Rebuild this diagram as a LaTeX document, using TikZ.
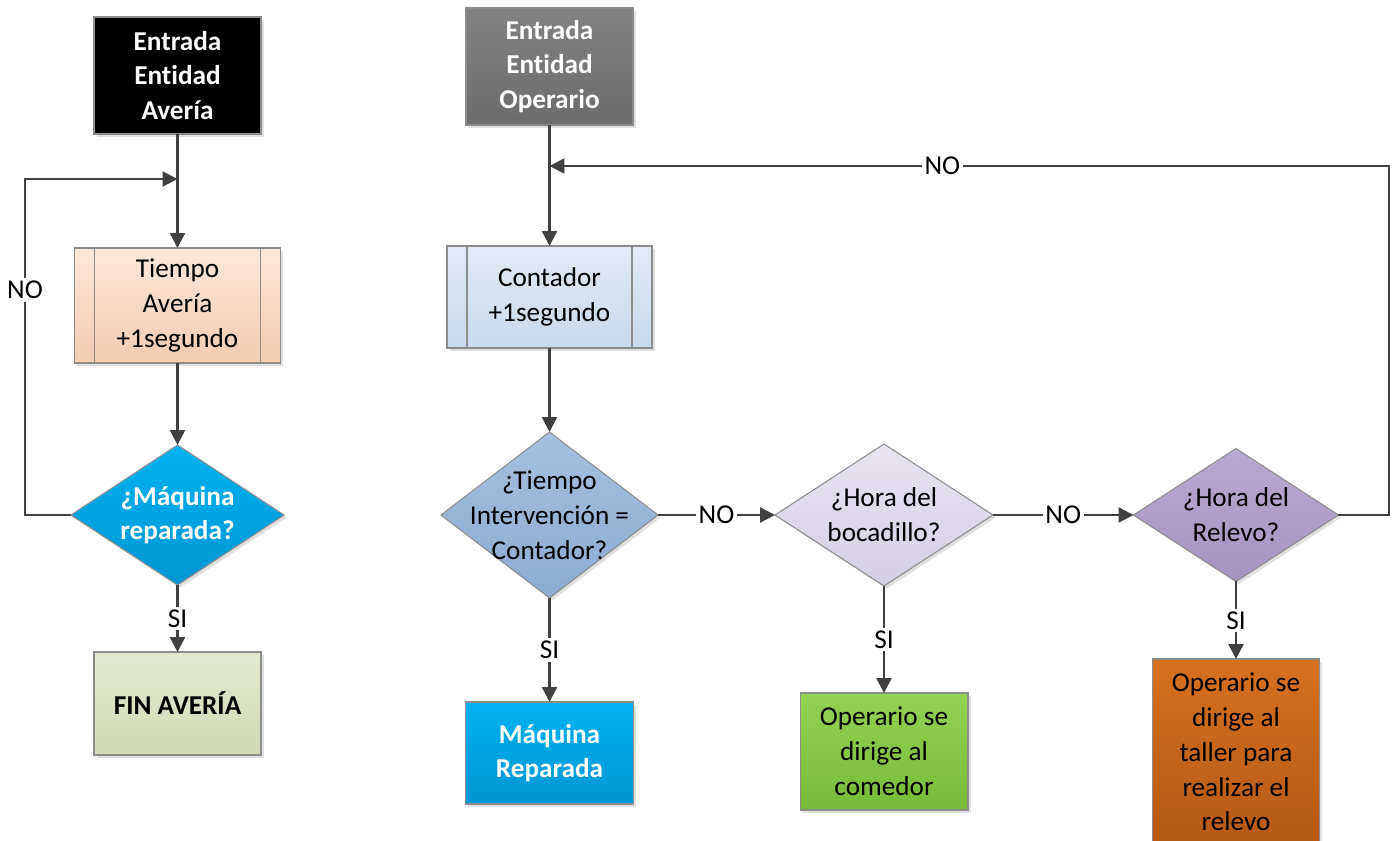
\documentclass[tikz,border=0pt]{standalone}
\usepackage{fontspec}
\setmainfont{Carlito}[Ligatures=NoCommon]
\usepackage{xcolor}
\usetikzlibrary{shapes.geometric,arrows.meta,shadows}

\definecolor{flowline}{HTML}{404040}
\definecolor{boxedge}{HTML}{8C8C8C}
% fills, top and bottom of each gradient
\definecolor{peachtop}{HTML}{FCE8DA}  \definecolor{peachbot}{HTML}{F3CBB0}
\definecolor{skytop}{HTML}{00B2F0}    \definecolor{skybot}{HTML}{0096D4}
\definecolor{olivetop}{HTML}{E2E9D3}  \definecolor{olivebot}{HTML}{D0DAB3}
\definecolor{greytop}{HTML}{828282}   \definecolor{greybot}{HTML}{6C6C6C}
\definecolor{icetop}{HTML}{E2EBF5}    \definecolor{icebot}{HTML}{C8D9EC}
\definecolor{steeltop}{HTML}{A6C0DF}  \definecolor{steelbot}{HTML}{8BABD2}
\definecolor{lilactop}{HTML}{E8E4F1}  \definecolor{lilacbot}{HTML}{D5CFE4}
\definecolor{plumtop}{HTML}{B9AAD0}   \definecolor{plumbot}{HTML}{A593BF}
\definecolor{leaftop}{HTML}{94D152}   \definecolor{leafbot}{HTML}{76BC38}
\definecolor{rusttop}{HTML}{D6711E}   \definecolor{rustbot}{HTML}{B55914}
\newcommand{\chartfont}{\fontsize{15.5}{19.8}\selectfont}

\begin{document}
\begin{tikzpicture}[x=0.02cm, y=-0.02cm,
  basebox/.style={draw=boxedge, line width=0.6pt, inner sep=0pt, outer sep=0pt, align=center,
    font=\chartfont, drop shadow={shadow xshift=1.5pt, shadow yshift=-1.5pt, fill=black!30, opacity=0.4}},
  startnode/.style={basebox, rectangle, minimum width=3.34cm, minimum height=2.34cm, text=white, font=\chartfont\bfseries},
  procnode/.style={basebox, rectangle, minimum width=4.1cm},
  endnode/.style={basebox, rectangle, minimum width=3.36cm},
  asknode/.style={basebox, diamond},
  asktext/.style={align=center, inner sep=0pt, font=\chartfont},
  flow/.style={draw=flowline, line width=1.3pt, -{Triangle[length=8.5pt, width=8.5pt]}},
  edgelabel/.style={fill=white, inner sep=1.5pt, font=\chartfont, text=black},
]
\clip (0,0) rectangle (1396,841);

% Nodes - averia
\node[startnode, fill=black] (avin) at (177.5,75.5) {Entrada\\Entidad\\Avería};
\node[procnode, minimum width=4.12cm, minimum height=2.3cm, top color=peachtop, bottom color=peachbot] (avtime) at (177.5,305.5) {Tiempo\\Avería\\+1segundo};
\node[asknode, minimum width=4.26cm, minimum height=2.8cm, top color=skytop, bottom color=skybot] (avask) at (177.5,515) {};
\node[asktext, text=white, font=\chartfont\bfseries] (avasktxt) at (avask) {¿Máquina\\reparada?};
\node[endnode, minimum width=3.34cm, minimum height=2.06cm, top color=olivetop, bottom color=olivebot, font=\chartfont\bfseries] (avend) at (177.5,703.5) {FIN AVERÍA};

% Nodes - operario
\node[startnode, top color=greytop, bottom color=greybot] (opin) at (549.5,66.5) {Entrada\\Entidad\\Operario};
\node[procnode, minimum height=2.04cm, top color=icetop, bottom color=icebot] (opcount) at (549.5,297) {Contador\\+1segundo};
\node[asknode, minimum width=4.34cm, minimum height=3.32cm, top color=steeltop, bottom color=steelbot] (optime) at (549.5,515) {};
\node[asktext] (optimetxt) at (optime) {¿Tiempo\\Intervención =\\Contador?};
\node[asknode, minimum width=4.36cm, minimum height=2.84cm, top color=lilactop, bottom color=lilacbot] (opsnack) at (884,515) {};
\node[asktext] (opsnacktxt) at (opsnack) {¿Hora del\\bocadillo?};
\node[asknode, minimum width=4.1cm, minimum height=2.66cm, top color=plumtop, bottom color=plumbot] (opshift) at (1236,515) {};
\node[asktext] (opshifttxt) at (opshift) {¿Hora del\\Relevo?};

\node[endnode, minimum height=2.04cm, top color=skytop, bottom color=skybot, text=white, font=\chartfont\bfseries] (opfixed) at (549.5,753) {Máquina\\Reparada};
\node[endnode, minimum height=2.34cm, top color=leaftop, bottom color=leafbot] (opmeal) at (884,751.5) {Operario se\\dirige al\\comedor};
\node[endnode, minimum width=3.34cm, minimum height=3.72cm, top color=rusttop, bottom color=rustbot] (opleave) at (1236,752) {Operario se\\dirige al\\taller para\\realizar el\\relevo};

% side bars of the process boxes
\foreach \p in {avtime,opcount} {
  \draw[boxedge, line width=0.6pt] ([xshift=0.4cm]\p.north west) -- ([xshift=0.4cm]\p.south west);
  \draw[boxedge, line width=0.6pt] ([xshift=-0.4cm]\p.north east) -- ([xshift=-0.4cm]\p.south east);
}

% Loop points
\coordinate (avjoin) at (177.5,179);
\coordinate (avback) at (25,179);
\coordinate (opjoin) at (549.5,166);
\coordinate (opback) at (1389,166);

% Lines
\draw[flow] (avin) -- (avtime);
\draw[flow] (avtime) -- (avask);
\draw[flow] (avask) -- node[edgelabel] {SI} (avend);
\draw[flow] (avask.west) -| (avback) -- (avjoin);
\node[edgelabel] (avno) at (25,290) {NO};

\draw[flow] (opin) -- (opcount);
\draw[flow] (opcount) -- (optime);
\draw[flow] (optime) -- node[edgelabel] {SI} (opfixed);
\draw[flow] (optime) -- node[edgelabel] {NO} (opsnack);
\draw[flow] (opsnack) -- node[edgelabel] {SI} (opmeal);
\draw[flow] (opsnack) -- node[edgelabel] {NO} (opshift);
\draw[flow] (opshift) -- node[edgelabel] {SI} (opleave);
\draw[flow] (opshift.east) -| (opback) -- node[edgelabel, pos=0.532] {NO} (opjoin);

\end{tikzpicture}
\end{document}
